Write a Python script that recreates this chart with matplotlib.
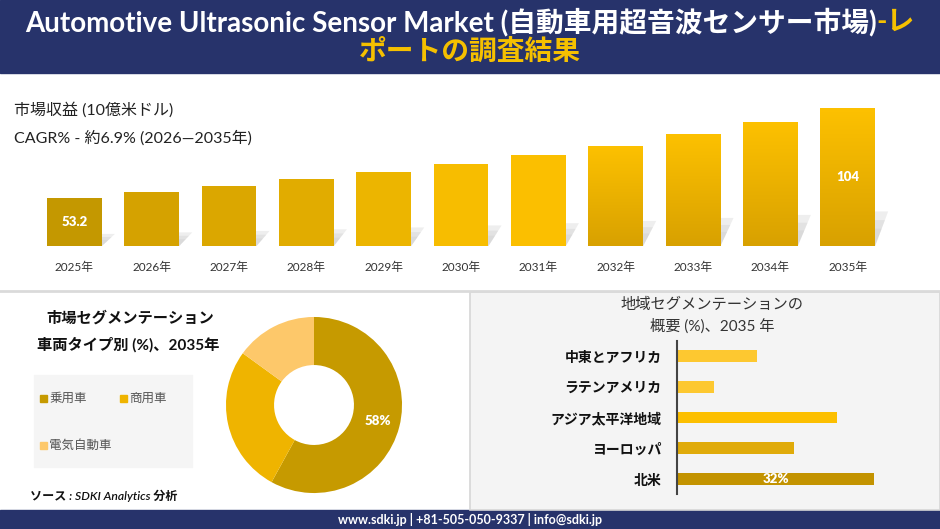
import matplotlib
matplotlib.use("Agg")
import matplotlib.pyplot as plt
import numpy as np
from matplotlib.patches import Rectangle, Polygon

plt.rcParams["font.family"] = ["Lato", "Noto Sans CJK JP", "DejaVu Sans"]

# ---- data ----
years = ["2025年", "2026年", "2027年", "2028年", "2029年", "2030年",
         "2031年", "2032年", "2033年", "2034年", "2035年"]
revenue = [53.2, 56.6, 60.0, 63.6, 67.8, 72.3, 77.4, 82.5, 89.3, 96.1, 104]
bar_colors = ["#c49800", "#d5a200", "#dba700", "#e1ac00", "#ecb500",
              "#f7bd00", "#fbbf00", "#fcc000", "#fcc000", "#fcc000", "#fcc000"]
gradient_from = 7  # bars from this index use a vertical gradient

vehicle_types = ["乗用車", "商用車", "電気自動車"]
vehicle_share = [58, 27, 15]
vehicle_colors = ["#c69a00", "#efb400", "#fdc86a"]

regions = ["北米", "ヨーロッパ", "アジア太平洋地域", "ラテンアメリカ", "中東とアフリカ"]
region_share = [32, 19, 26, 6, 13]
region_colors = ["#c39300", "#e0ab0a", "#fcbf00", "#fdc830", "#fdc830"]

NAVY = "#27336b"
GOLD = "#f5c000"
W, H = 940, 529

fig = plt.figure(figsize=(W / 100, H / 100), dpi=100)
fig.patch.set_facecolor("white")


def px_axes(x0, y0, x1, y1):
    return fig.add_axes([x0 / W, 1 - y1 / H, (x1 - x0) / W, (y1 - y0) / H])


# background layer in pixel coordinates
bg = px_axes(0, 0, W, H)
bg.set_xlim(0, W)
bg.set_ylim(H, 0)
bg.axis("off")
bg.add_patch(Rectangle((0, 0), W, 73, color=NAVY))
bg.add_patch(Rectangle((0, 510), W, 19, color=NAVY))
bg.add_patch(Rectangle((470, 292), 470, 218, facecolor="#f4f4f4", edgecolor="#d6d6d6", lw=1.2))
bg.plot([0, W], [291, 291], color="#dadada", lw=2)
bg.add_patch(Rectangle((34, 375), 158, 92, color="#f5f5f5"))

# header: white part + gold tail on line 1, measured so the pair stays centred
renderer = fig.canvas.get_renderer()
t1 = bg.text(0, 22, "Automotive Ultrasonic Sensor Market (自動車用超音波センサー市場)",
             ha="left", va="center", color="white", fontsize=20, fontweight="bold")
t2 = bg.text(0, 22, "-レ", ha="left", va="center", color=GOLD, fontsize=20, fontweight="bold")
w1 = t1.get_window_extent(renderer).width
w2 = t2.get_window_extent(renderer).width
x_start = (W - w1 - w2) / 2
t1.set_x(x_start)
t2.set_x(x_start + w1)
bg.text(470, 52, "ポートの調査結果", ha="center", va="center", color=GOLD,
        fontsize=20, fontweight="bold")

bg.text(14, 110, "市場収益 (10億米ドル)", ha="left", va="center", color="#222222", fontsize=11.5)
bg.text(14, 138, "CAGR% - 約6.9% (2026—2035年)", ha="left", va="center", color="#222222", fontsize=11.5)

# bottom-left texts
bg.text(130, 318, "市場セグメンテーション", ha="center", va="center", color="#111111",
        fontsize=11, fontweight="bold")
bg.text(128, 345, "車両タイプ別 (%)、2035年", ha="center", va="center", color="#111111",
        fontsize=11, fontweight="bold")
leg_pos = [(40, 398), (120, 398), (40, 445)]
for (lx, ly), name, c in zip(leg_pos, vehicle_types, vehicle_colors):
    bg.add_patch(Rectangle((lx, ly - 3.5), 7, 7, color=c))
    bg.text(lx + 9, ly, name, ha="left", va="center", color="#555555", fontsize=9)
bg.text(30, 496, "ソース : SDKI Analytics 分析", ha="left", va="center", color="#111111",
        fontsize=8.7, style="italic", fontweight="semibold")

# right panel title
bg.text(712, 305, "地域セグメンテーションの", ha="center", va="center", color="#333333", fontsize=11)
bg.text(712, 326, "概要 (%)、2035 年", ha="center", va="center", color="#333333", fontsize=11)

# footer
bg.text(470, 519, "www.sdki.jp | +81-505-050-9337 | info@sdki.jp", ha="center", va="center",
        color="white", fontsize=9, fontweight="bold")

# ---- revenue bars ----
base = 25.85
ax = px_axes(28, 97, 894, 246)
ax.set_facecolor("none")
x = np.arange(len(years))
bw = 0.71
for i, v in enumerate(revenue):
    h = v - base
    L, R = x[i] - bw / 2, x[i] + bw / 2
    sh = 0.25 * h
    for k in (1.0, 0.75, 0.5):
        ax.add_patch(Polygon([(L + 0.1, base), (R, base), (R + 0.17 * k, base + sh * k),
                              (L + 0.2, base + sh * k)], closed=True, color="#c8c8c8",
                             alpha=0.3, lw=0, zorder=1))
bars = ax.bar(x, [v - base for v in revenue], bottom=base, width=bw, color=bar_colors,
              zorder=2)
grad = np.linspace(0, 1, 100).reshape(-1, 1)
cmap = matplotlib.colors.LinearSegmentedColormap.from_list("g", ["#d8a100", "#fdc100"])
for i in range(gradient_from, len(revenue)):
    b = bars[i]
    im = ax.imshow(grad, extent=[b.get_x(), b.get_x() + bw, base, revenue[i]], origin="lower",
                   cmap=cmap, aspect="auto", zorder=3)
    im.set_clip_path(b)
ax.set_xlim(-0.6, len(years) - 0.4)
ax.set_ylim(base, 110)
for s in ax.spines.values():
    s.set_visible(False)
ax.set_yticks([])
ax.set_xticks(x)
ax.set_xticklabels(years, fontsize=8.5, color="#333333")
ax.tick_params(axis="x", length=0, pad=11)
for i in (0, len(revenue) - 1):
    ax.text(x[i], (base + revenue[i]) / 2, f"{revenue[i]:g}", ha="center", va="center",
            color="white", fontsize=9.5, fontweight="heavy", zorder=5)

# ---- donut ----
dax = px_axes(224, 315, 404, 495)
wedges, _ = dax.pie(vehicle_share, colors=vehicle_colors, startangle=90, counterclock=False,
                    radius=0.978, wedgeprops=dict(width=0.534, linewidth=0))
dax.set_xlim(-1, 1)
dax.set_ylim(-1, 1)
dax.set_aspect("equal")
w0 = wedges[0]
mid = np.deg2rad((w0.theta1 + w0.theta2) / 2)
dax.text(0.73 * np.cos(mid), 0.73 * np.sin(mid), f"{vehicle_share[0]}%", ha="center",
         va="center", color="white", fontsize=9.5, fontweight="heavy")

# ---- region bars ----
hax = px_axes(677, 340.6, 893, 494.4)
hax.set_facecolor("none")
y = np.arange(len(regions))
hax.barh(y, region_share, height=0.39, color=region_colors)
hax.set_xlim(0, 35)
hax.set_ylim(-0.5, len(regions) - 0.5)
for s in ("top", "right", "bottom"):
    hax.spines[s].set_visible(False)
hax.spines["left"].set_color("#444444")
hax.spines["left"].set_linewidth(1.5)
hax.set_xticks([])
hax.set_yticks(y)
hax.set_yticklabels(regions, fontsize=10, fontweight="bold", color="#111111")
hax.tick_params(axis="y", length=0, pad=11)
hax.text(region_share[0] / 2, 0, f"{region_share[0]}%", ha="center", va="center",
         color="white", fontsize=9.5, fontweight="heavy")

fig.savefig("out.png", dpi=100, facecolor=fig.get_facecolor())
